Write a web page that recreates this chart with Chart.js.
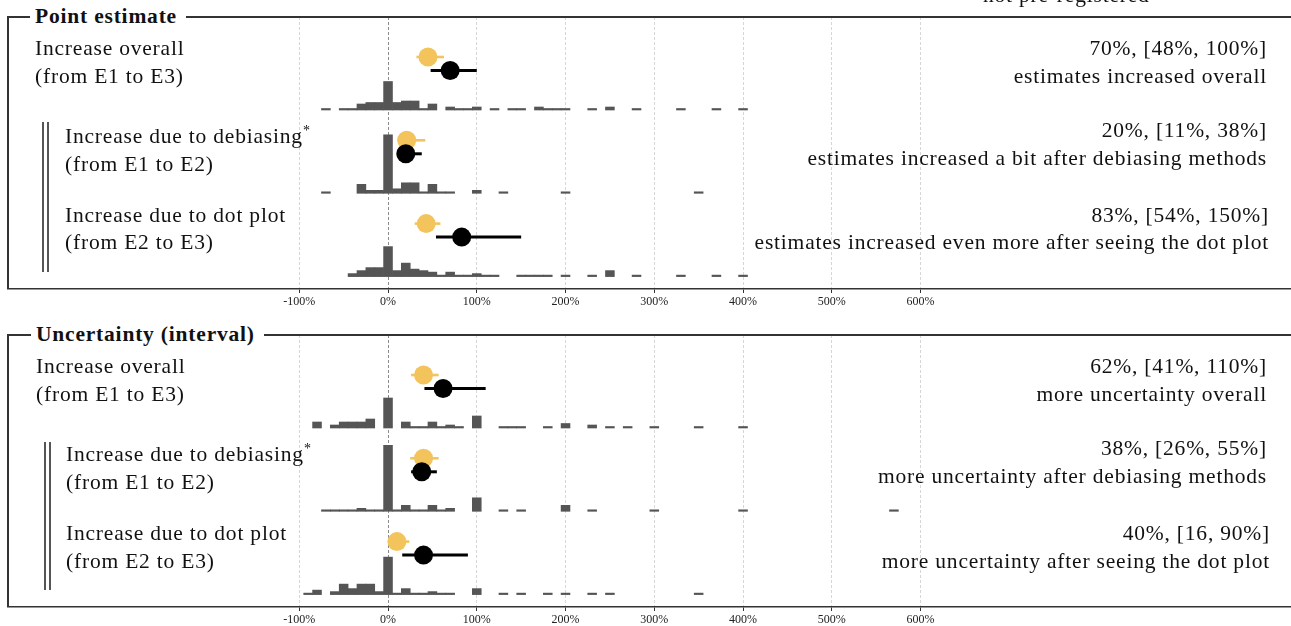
<!DOCTYPE html>
<html lang="en">
<head>
<meta charset="utf-8">
<title>Change in estimates</title>
<script src="https://cdn.jsdelivr.net/npm/chart.js@4.4.1/dist/chart.umd.min.js"></script>
<style>
    html, body { margin: 0; padding: 0; background: #fff; }
    body {
        position: relative; width: 1291px; height: 626px; overflow: hidden;
        font-family: "Liberation Serif", "Times New Roman", serif; color: #111;
    }
    canvas { position: absolute; left: 0; }
    #pointChart { top: 0; }
    #uncChart { top: 318px; }

    .box {
        position: absolute; left: 7px; width: 1284px; height: 273px;
        border-top: 2px solid #333; border-left: 2px solid #333; box-sizing: border-box;
    }
    .lab {
        position: absolute; font-size: 21.5px; line-height: 27.5px;
        letter-spacing: 0.8px; white-space: nowrap;
    }
    .res { text-align: right; }
    .title { font-weight: bold; background: #fff; padding: 0 9px 0 5px; }
    .ast { font-size: 14px; vertical-align: 8px; letter-spacing: 0; }
    .bracket {
        position: absolute; width: 3px;
        border-left: 2px solid #555; border-right: 2px solid #555;
    }
</style>
</head>
<body>

<canvas id="pointChart" width="1291" height="318"></canvas>
<canvas id="uncChart" width="1291" height="308"></canvas>

<div class="lab" style="left:983px; top:-18.5px;">not pre-registered</div>

<!-- Point estimate panel -->
<div class="box" style="top:16px;"></div>
<div class="lab title" style="left:30px; top:3px;">Point estimate</div>
<div class="bracket" style="left:42px; top:122px; height:150px;"></div>

<div class="lab" style="left:35px; top:35px;">Increase overall<br>(from E1 to E3)</div>
<div class="lab" style="left:65px; top:117px;">Increase due to debiasing<span class="ast">*</span><br>(from E1 to E2)</div>
<div class="lab" style="left:65px; top:201.5px;">Increase due to dot plot<br>(from E2 to E3)</div>

<div class="lab res" style="right:24px; top:35px;">70%, [48%, 100%]<br>estimates increased overall</div>
<div class="lab res" style="right:24px; top:117px;">20%, [11%, 38%]<br>estimates increased a bit after debiasing methods</div>
<div class="lab res" style="right:22px; top:201.5px;">83%, [54%, 150%]<br>estimates increased even more after seeing the dot plot</div>

<!-- Uncertainty panel -->
<div class="box" style="top:334px;"></div>
<div class="lab title" style="left:31px; top:321px;">Uncertainty (interval)</div>
<div class="bracket" style="left:44px; top:442px; height:148px;"></div>

<div class="lab" style="left:36px; top:353px;">Increase overall<br>(from E1 to E3)</div>
<div class="lab" style="left:66px; top:435px;">Increase due to debiasing<span class="ast">*</span><br>(from E1 to E2)</div>
<div class="lab" style="left:66px; top:520px;">Increase due to dot plot<br>(from E2 to E3)</div>

<div class="lab res" style="right:24px; top:353px;">62%, [41%, 110%]<br>more uncertainty overall</div>
<div class="lab res" style="right:24px; top:435px;">38%, [26%, 55%]<br>more uncertainty after debiasing methods</div>
<div class="lab res" style="right:21px; top:520px;">40%, [16, 90%]<br>more uncertainty after seeing the dot plot</div>

<script>
/* =========================================================
   DATA  (bins are 10%-wide, keyed by centre, counts per bin)
========================================================= */
const xTicks = [-100, 0, 100, 200, 300, 400, 500, 600];

const pointOverallBins   = [-70, -50, -40, -30, -20, -10, 0, 10, 20, 30, 40, 50, 70, 80, 90, 100, 120, 140, 150, 170, 180, 190, 200, 230, 250, 280, 330, 370, 400];
const pointOverallCounts = [1, 1, 1, 4, 5, 5, 19, 5, 6, 6, 1, 4, 2, 1, 1, 2, 1, 1, 1, 2, 1, 1, 1, 1, 2, 1, 1, 1, 1];

const pointDebiasBins   = [-70, -30, -20, -10, 0, 10, 20, 30, 40, 50, 60, 70, 100, 130, 200, 350];
const pointDebiasCounts = [1, 6, 2, 2, 39, 3, 7, 7, 1, 6, 1, 1, 2, 1, 1, 1];

const pointDotBins   = [-40, -30, -20, -10, 0, 10, 20, 30, 40, 50, 60, 70, 80, 90, 100, 110, 120, 150, 160, 170, 180, 200, 230, 250, 280, 330, 370, 400];
const pointDotCounts = [2, 4, 6, 6, 20, 4, 9, 5, 4, 3, 1, 3, 1, 1, 2, 1, 1, 1, 1, 1, 1, 1, 1, 4, 1, 1, 1, 1];

const uncOverallBins   = [-80, -60, -50, -40, -30, -20, 0, 20, 30, 40, 50, 60, 70, 80, 100, 130, 140, 150, 180, 200, 230, 250, 270, 300, 350, 400];
const uncOverallCounts = [4, 2, 4, 4, 4, 6, 20, 4, 1, 1, 4, 1, 2, 1, 8, 1, 1, 1, 1, 3, 2, 1, 1, 1, 1, 1];

const uncDebiasBins   = [-70, -60, -50, -40, -30, -20, -10, 0, 10, 20, 30, 40, 50, 60, 70, 100, 130, 150, 200, 230, 300, 400, 570];
const uncDebiasCounts = [1, 1, 1, 1, 2, 1, 1, 44, 1, 4, 1, 1, 4, 1, 2, 9, 1, 1, 4, 1, 1, 1, 1];

const uncDotBins   = [-90, -80, -60, -50, -40, -30, -20, -10, 0, 10, 20, 30, 40, 50, 60, 70, 100, 130, 150, 180, 200, 230, 250, 350];
const uncDotCounts = [1, 3, 2, 7, 4, 7, 7, 2, 25, 1, 4, 1, 1, 2, 1, 1, 4, 1, 1, 1, 1, 1, 1, 1];

// black: observed change with interval; yellow: reference
const pointEst   = [70, 20, 83];
const pointLo    = [48, 11, 54];
const pointHi    = [100, 38, 150];
const pointRef   = [45, 21, 43];
const pointRefLo = [32, 12, 30];
const pointRefHi = [63, 42, 59];

const uncEst   = [62, 38, 40];
const uncLo    = [41, 26, 16];
const uncHi    = [110, 55, 90];
const uncRef   = [40, 40, 10];
const uncRefLo = [26, 25, 2];
const uncRefHi = [57, 57, 24];

/* =========================================================
   LAYOUT CONSTANTS
========================================================= */
const X_MIN = -428.2, X_MAX = 1017.4;
const PANEL_H = 272;
const ROW_BASE = [93, 176.3, 259.6];   // histogram baselines, px from panel top
const BLACK_UP = 39.5, YELLOW_UP = 53;
const COUNT_PX = 1.5;
const YELLOW = "#f3c45c";
const BAR_GREY = "#555555";

/* =========================================================
   BUILD ONE PANEL
========================================================= */
function buildPanel(canvasId, rows, axisHeight) {
    const datasets = [];

    rows.forEach((row, i) => {
        const base = ROW_BASE[i];
        const yBlack = base - BLACK_UP;
        const yYellow = base - YELLOW_UP;

        datasets.push({
            type: "bar",
            data: row.bins.map((b, j) => ({ x: b, y: [base, base - row.counts[j] * COUNT_PX] })),
            backgroundColor: BAR_GREY,
            grouped: false,
            barPercentage: 1,
            categoryPercentage: 1,
            order: 5
        });

        datasets.push({
            type: "line",
            data: [{ x: row.refLo, y: yYellow }, { x: row.refHi, y: yYellow }],
            borderColor: YELLOW,
            borderWidth: 2.6,
            pointRadius: 0,
            order: 4
        });
        datasets.push({
            type: "line",
            data: [{ x: row.ref, y: yYellow }],
            showLine: false,
            pointRadius: 9.5,
            pointBackgroundColor: YELLOW,
            pointBorderWidth: 0,
            order: 3
        });

        datasets.push({
            type: "line",
            data: [{ x: row.lo, y: yBlack }, { x: row.hi, y: yBlack }],
            borderColor: "#000",
            borderWidth: 3,
            pointRadius: 0,
            order: 2
        });
        datasets.push({
            type: "line",
            data: [{ x: row.est, y: yBlack }],
            showLine: false,
            pointRadius: 9.5,
            pointBackgroundColor: "#000",
            pointBorderWidth: 0,
            order: 1
        });
    });

    return new Chart(document.getElementById(canvasId), {
        type: "line",
        data: { datasets },
        options: {
            responsive: false,
            animation: false,
            devicePixelRatio: 1,
            layout: { autoPadding: false, padding: { left: 8, top: 17, right: 0, bottom: 0 } },
            plugins: { legend: { display: false }, tooltip: { enabled: false } },
            scales: {
                x: {
                    type: "linear",
                    min: X_MIN,
                    max: X_MAX,
                    offset: false,
                    afterBuildTicks: s => { s.ticks = xTicks.map(v => ({ value: v })); },
                    afterFit: s => { s.height = axisHeight; },
                    ticks: {
                        autoSkip: false,
                        maxRotation: 0,
                        padding: 2,
                        color: "#222",
                        font: { family: "Liberation Serif", size: 12 },
                        callback: v => v + "%"
                    },
                    grid: {
                        offset: false,
                        lineWidth: 1,
                        tickLength: 4,
                        tickColor: "#333",
                        color: c => (c.tick && c.tick.value === 0) ? "#8a8a8a" : "#d6d6d6"
                    },
                    border: { display: true, color: "#333", width: 1.5, dash: [3, 2] }
                },
                y: {
                    type: "linear",
                    min: 0,
                    max: PANEL_H,
                    reverse: true,
                    display: false
                }
            }
        }
    });
}

function makeRows(bins, counts, est, lo, hi, ref, refLo, refHi) {
    return bins.map((b, i) => ({
        bins: b, counts: counts[i],
        est: est[i], lo: lo[i], hi: hi[i],
        ref: ref[i], refLo: refLo[i], refHi: refHi[i]
    }));
}

/* =========================================================
   RENDER
========================================================= */
buildPanel("pointChart",
    makeRows([pointOverallBins, pointDebiasBins, pointDotBins],
             [pointOverallCounts, pointDebiasCounts, pointDotCounts],
             pointEst, pointLo, pointHi, pointRef, pointRefLo, pointRefHi),
    318 - 17 - PANEL_H);

buildPanel("uncChart",
    makeRows([uncOverallBins, uncDebiasBins, uncDotBins],
             [uncOverallCounts, uncDebiasCounts, uncDotCounts],
             uncEst, uncLo, uncHi, uncRef, uncRefLo, uncRefHi),
    308 - 17 - PANEL_H);
</script>
</body>
</html>
